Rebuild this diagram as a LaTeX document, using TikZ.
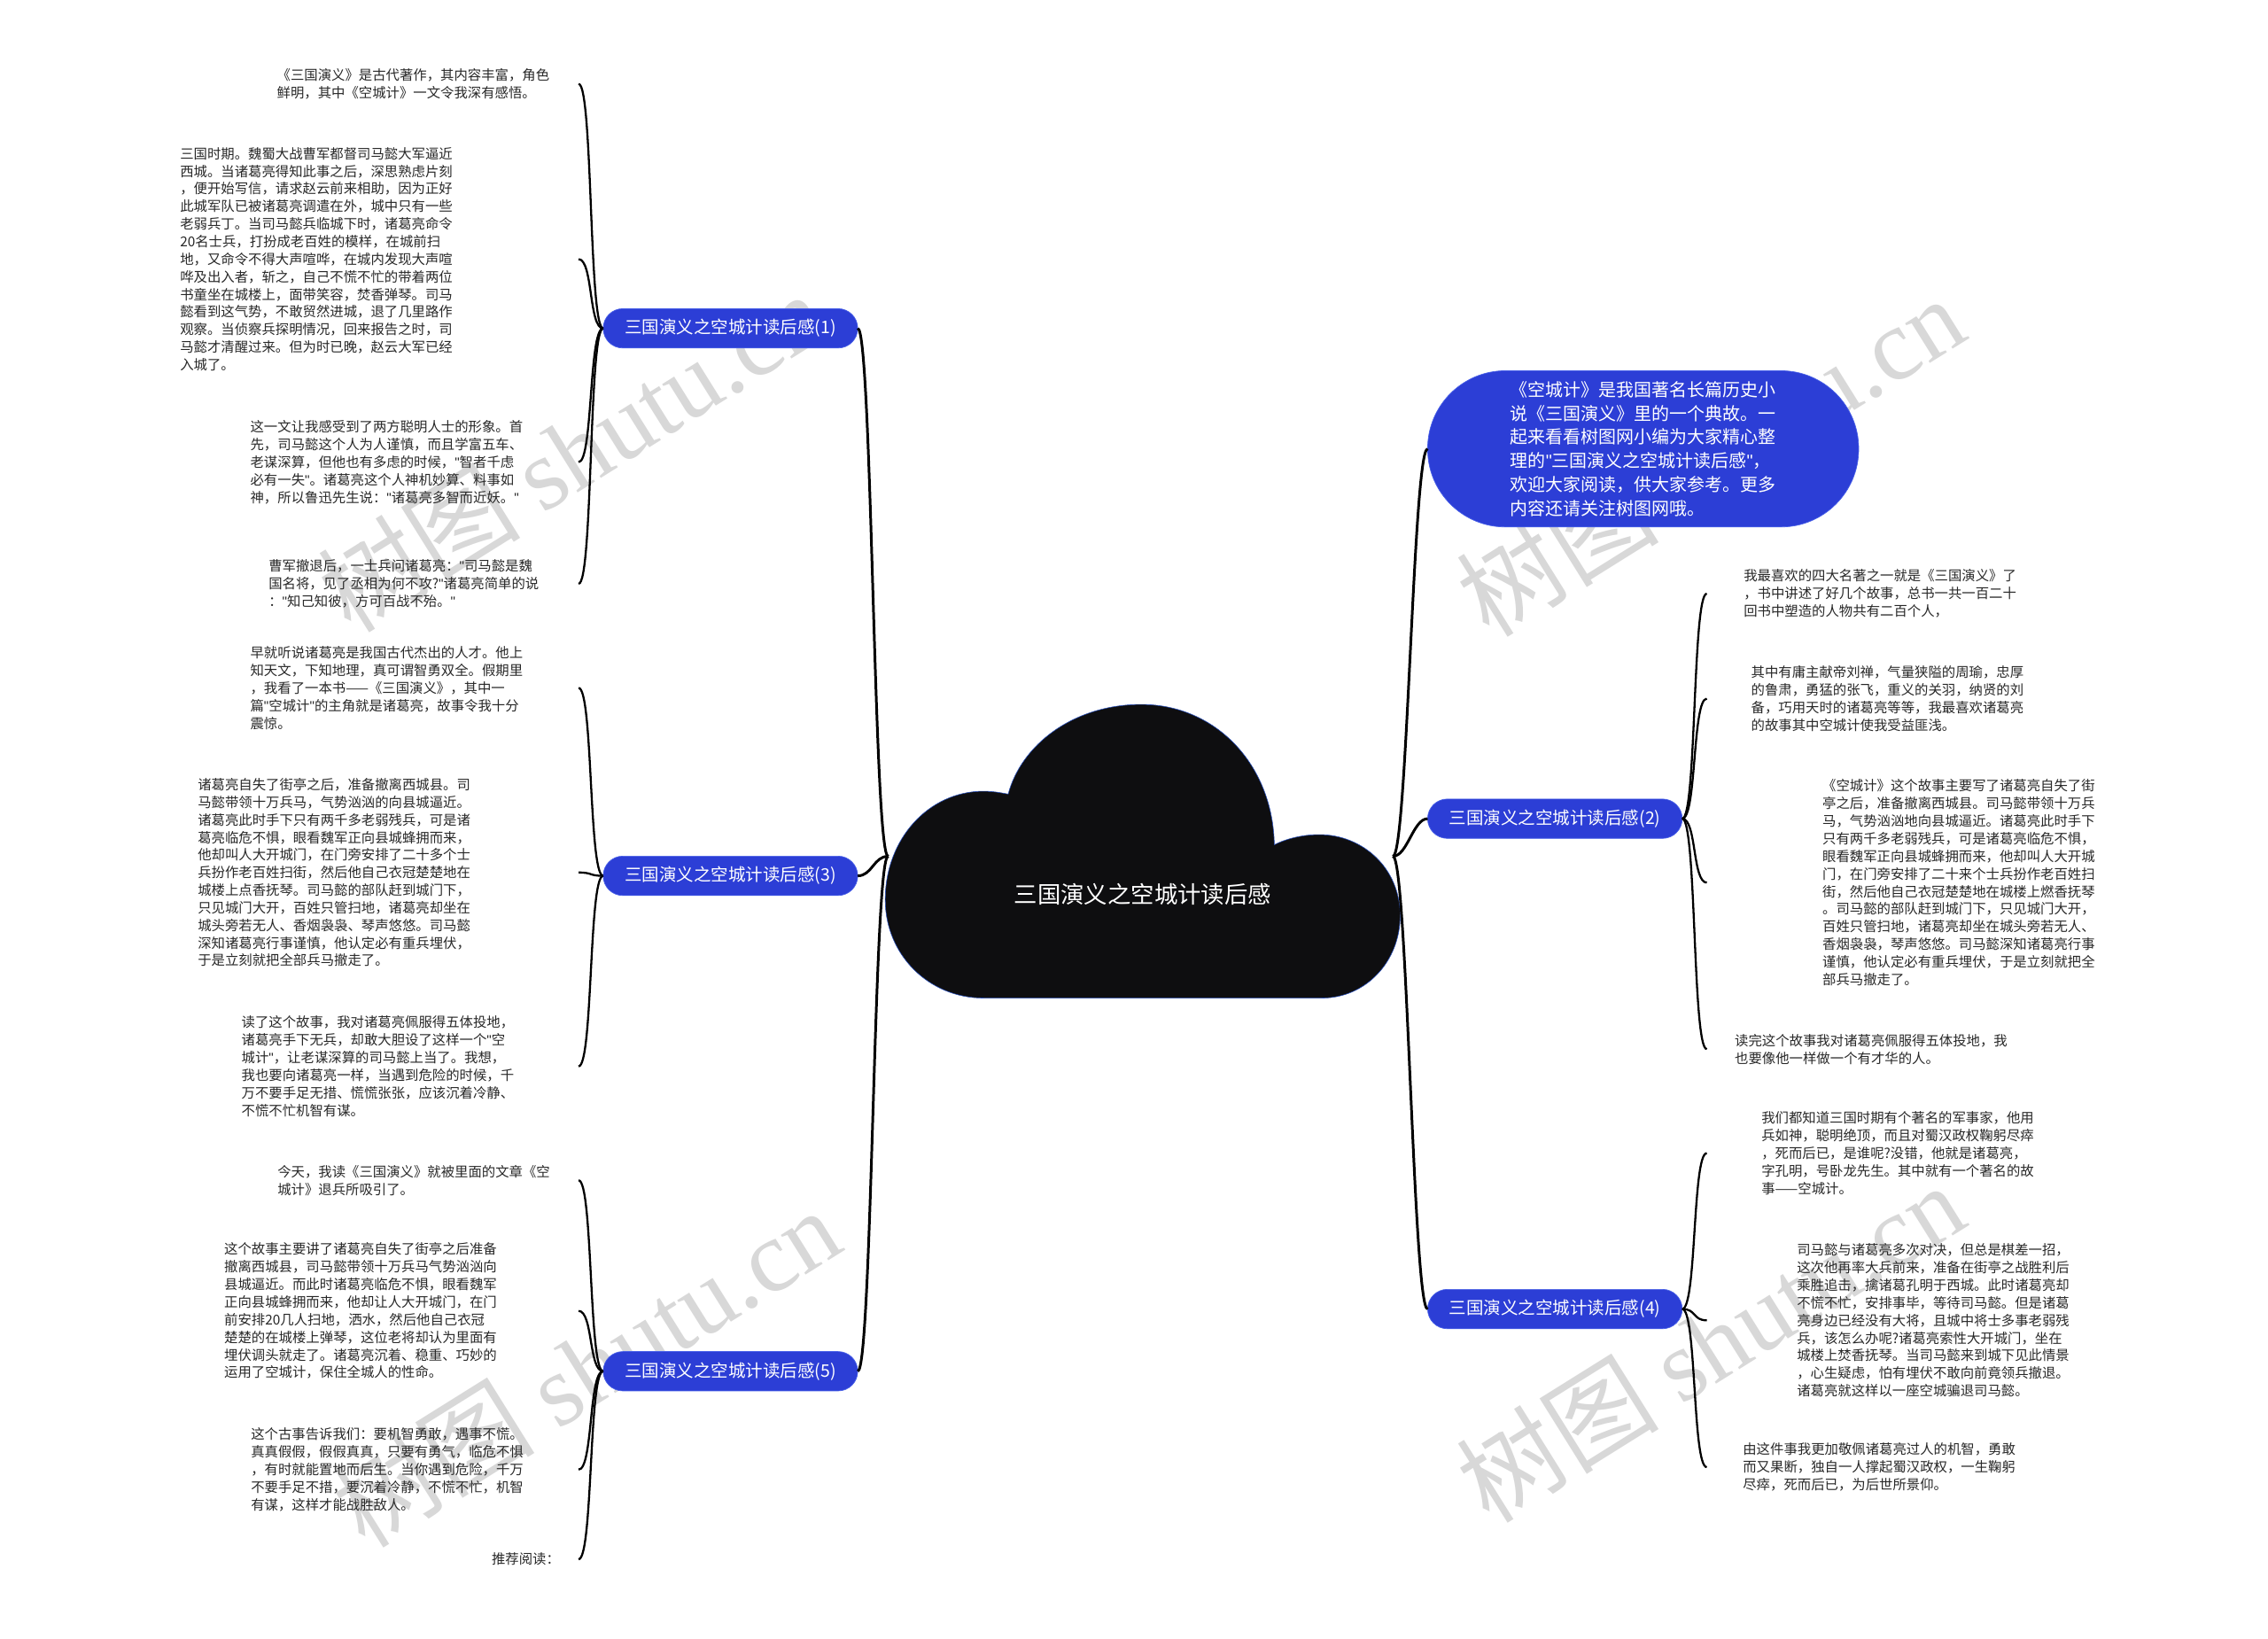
\documentclass[tikz,border=0pt]{standalone}
\usepackage{fontspec}
\setmainfont{Noto Sans CJK SC}
\newfontfamily\wmfont{Liberation Serif}
\newfontfamily\quotefont{Liberation Sans}
\newcommand\qmark{{\quotefont"}}
\definecolor{topicblue}{RGB}{44,62,214}
\definecolor{topicedge}{RGB}{72,96,232}
\definecolor{cloudfill}{RGB}{14,14,16}
\definecolor{cloudedge}{RGB}{40,80,190}
\definecolor{leafgray}{RGB}{40,40,40}
\definecolor{wmgray}{RGB}{216,216,216}

\begin{document}
\begin{tikzpicture}[x=0.5mm,y=-0.5mm,
                    every node/.style={inner sep=0pt,outer sep=0pt},
                    leaf/.style={anchor=west,align=left,text=leafgray,
                      font=\fontsize{13.4pt}{17.3pt}\selectfont},
                    topic/.style={rectangle,rounded corners=6.8mm,fill=topicblue,
                      draw=topicedge,line width=0.6pt,text=white,minimum width=88mm,
                      minimum height=13.6mm,font=\fontsize{17pt}{20pt}\selectfont},
                    intro/.style={rectangle,rounded corners=26.9mm,fill=topicblue,
                      draw=topicedge,line width=0.6pt,text=white,align=left,
                      minimum width=149mm,minimum height=54mm,
                      font=\fontsize{17.4pt}{23.3pt}\selectfont},
                    wmark/.style={text=wmgray,rotate=32,font=\fontsize{100pt}{100pt}\selectfont},
                    linkl/.style={draw=black,line width=2pt,
                      to path={.. controls +(-10,0) and +(10,0) .. (\tikztotarget)}},
                    linkr/.style={draw=black,line width=2pt,
                      to path={.. controls +(10,0) and +(-10,0) .. (\tikztotarget)}},
                    trunk/.style={line width=2.6pt}]

  \fill[white] (0,0) rectangle (1568,1133);
  \useasboundingbox (0,0) rectangle (1568,1133);

  % watermarks
  \node[wmark] (wm1) at (395,312)  {树图 {\wmfont shutu.cn}};
  \node[wmark] (wm2) at (1182,315) {树图 {\wmfont shutu.cn}};
  \node[wmark] (wm3) at (405,945)  {树图 {\wmfont shutu.cn}};
  \node[wmark] (wm4) at (1182,928) {树图 {\wmfont shutu.cn}};

  % cloud
  \draw[fill=cloudfill,draw=cloudedge,line width=0.5pt]
    (680,690) -- (914,690) .. controls (944,690) and (968,665) .. (968,633)
    .. controls (968,600) and (942,577) .. (912,577)
    .. controls (900,577) and (889,580) .. (881,584)
    .. controls (880,528) and (840,487) .. (789,487)
    .. controls (742,487) and (706,515) .. (697,549)
    .. controls (692,548) and (686,547) .. (680,547)
    .. controls (642,547) and (612,580) .. (612,622)
    .. controls (612,660) and (642,690) .. (680,690) -- cycle;
  \node[text=white,font=\fontsize{23pt}{26pt}\selectfont] (root) at (790,618) {三国演义之空城计读后感};
  \coordinate (rootl) at (614,592);
  \coordinate (rootr) at (963,592);
  \coordinate (xl) at (400,0);
  \coordinate (xr) at (1180,0);

  \node[topic] (b1) at (505,227)   {三国演义之空城计读后感(1)};
  \node[topic] (b3) at (505,605.5) {三国演义之空城计读后感(3)};
  \node[topic] (b5) at (505,948)   {三国演义之空城计读后感(5)};
  \node[topic] (b2) at (1075,566)  {三国演义之空城计读后感(2)};
  \node[topic] (b4) at (1075,905)  {三国演义之空城计读后感(4)};

  \node[intro] (r0) at (1136,310.3) {《空城计》是我国著名长篇历史小\\说《三国演义》里的一个典故。一\\起来看看树图网小编为大家精心整\\理的\qmark 三国演义之空城计读后感\qmark ，\\欢迎大家阅读，供大家参考。更多\\内容还请关注树图网哦。};

  % left leaves
  \node[leaf] (l1) at (191.5,58) {《三国演义》是古代著作，其内容丰富，角色\\鲜明，其中《空城计》一文令我深有感悟。};
  \node[leaf] (l2) at (124.5,179.2) {三国时期。魏蜀大战曹军都督司马懿大军逼近\\
    西城。当诸葛亮得知此事之后，深思熟虑片刻\\
    ，便开始写信，请求赵云前来相助，因为正好\\
    此城军队已被诸葛亮调遣在外，城中只有一些\\
    老弱兵丁。当司马懿兵临城下时，诸葛亮命令\\
    20名士兵，打扮成老百姓的模样，在城前扫\\
    地，又命令不得大声喧哗，在城内发现大声喧\\
    哗及出入者，斩之，自己不慌不忙的带着两位\\
    书童坐在城楼上，面带笑容，焚香弹琴。司马\\
    懿看到这气势，不敢贸然进城，退了几里路作\\
    观察。当侦察兵探明情况，回来报告之时，司\\
    马懿才清醒过来。但为时已晚，赵云大军已经\\
    入城了。};
  \node[leaf] (l3) at (173.1,319.5) {这一文让我感受到了两方聪明人士的形象。首\\
    先，司马懿这个人为人谨慎，而且学富五车、\\
    老谋深算，但他也有多虑的时候，\qmark 智者千虑\\
    必有一失\qmark 。诸葛亮这个人神机妙算、料事如\\
    神，所以鲁迅先生说：\qmark 诸葛亮多智而近妖。\qmark};
  \node[leaf] (l4) at (185.8,403.6) {曹军撤退后，一士兵问诸葛亮：\qmark 司马懿是魏\\
    国名将，见了丞相为何不攻?\qmark 诸葛亮简单的说\\
    ：\qmark 知己知彼，方可百战不殆。\qmark};
  \node[leaf] (l5) at (173.1,475.6) {早就听说诸葛亮是我国古代杰出的人才。他上\\
    知天文，下知地理，真可谓智勇双全。假期里\\
    ，我看了一本书——《三国演义》，其中一\\
    篇\qmark 空城计\qmark 的主角就是诸葛亮，故事令我十分\\
    震惊。};
  \node[leaf] (l6) at (136.8,603.2) {诸葛亮自失了街亭之后，准备撤离西城县。司\\
    马懿带领十万兵马，气势汹汹的向县城逼近。\\
    诸葛亮此时手下只有两千多老弱残兵，可是诸\\
    葛亮临危不惧，眼看魏军正向县城蜂拥而来，\\
    他却叫人大开城门，在门旁安排了二十多个士\\
    兵扮作老百姓扫街，然后他自己衣冠楚楚地在\\
    城楼上点香抚琴。司马懿的部队赶到城门下，\\
    只见城门大开，百姓只管扫地，诸葛亮却坐在\\
    城头旁若无人、香烟袅袅、琴声悠悠。司马懿\\
    深知诸葛亮行事谨慎，他认定必有重兵埋伏，\\
    于是立刻就把全部兵马撤走了。};
  \node[leaf] (l7) at (167,737.2) {读了这个故事，我对诸葛亮佩服得五体投地，\\
    诸葛亮手下无兵，却敢大胆设了这样一个\qmark 空\\
    城计\qmark ，让老谋深算的司马懿上当了。我想，\\
    我也要向诸葛亮一样，当遇到危险的时候，千\\
    万不要手足无措、慌慌张张，应该沉着冷静、\\
    不慌不忙机智有谋。};
  \node[leaf] (l8) at (191.9,816) {今天，我读《三国演义》就被里面的文章《空\\城计》退兵所吸引了。};
  \node[leaf] (l9) at (155.1,906.3) {这个故事主要讲了诸葛亮自失了街亭之后准备\\
    撤离西城县，司马懿带领十万兵马气势汹汹向\\
    县城逼近。而此时诸葛亮临危不惧，眼看魏军\\
    正向县城蜂拥而来，他却让人大开城门，在门\\
    前安排20几人扫地，洒水，然后他自己衣冠\\
    楚楚的在城楼上弹琴，这位老将却认为里面有\\
    埋伏调头就走了。诸葛亮沉着、稳重、巧妙的\\
    运用了空城计，保住全城人的性命。};
  \node[leaf] (l10) at (173.5,1016) {这个古事告诉我们：要机智勇敢，遇事不慌。\\
    真真假假，假假真真，只要有勇气，临危不惧\\
    ，有时就能置地而后生。当你遇到危险，千万\\
    不要手足不措，要沉着冷静，不慌不忙，机智\\
    有谋，这样才能战胜敌人。};
  \node[leaf] (l11) at (340,1078) {推荐阅读：};

  % right leaves
  \node[leaf] (r1) at (1205.6,410.4) {我最喜欢的四大名著之一就是《三国演义》了\\
    ，书中讲述了好几个故事，总书一共一百二十\\
    回书中塑造的人物共有二百个人，};
  \node[leaf] (r2) at (1210.7,483) {其中有庸主献帝刘禅，气量狭隘的周瑜，忠厚\\
    的鲁肃，勇猛的张飞，重义的关羽，纳贤的刘\\
    备，巧用天时的诸葛亮等等，我最喜欢诸葛亮\\
    的故事其中空城计使我受益匪浅。};
  \node[leaf] (r3) at (1260,610.2) {《空城计》这个故事主要写了诸葛亮自失了街\\
    亭之后，准备撤离西城县。司马懿带领十万兵\\
    马，气势汹汹地向县城逼近。诸葛亮此时手下\\
    只有两千多老弱残兵，可是诸葛亮临危不惧，\\
    眼看魏军正向县城蜂拥而来，他却叫人大开城\\
    门，在门旁安排了二十来个士兵扮作老百姓扫\\
    街，然后他自己衣冠楚楚地在城楼上燃香抚琴\\
    。司马懿的部队赶到城门下，只见城门大开，\\
    百姓只管扫地，诸葛亮却坐在城头旁若无人、\\
    香烟袅袅，琴声悠悠。司马懿深知诸葛亮行事\\
    谨慎，他认定必有重兵埋伏，于是立刻就把全\\
    部兵马撤走了。};
  \node[leaf] (r4) at (1199.4,725.3) {读完这个故事我对诸葛亮佩服得五体投地，我\\
    也要像他一样做一个有才华的人。};
  \node[leaf] (r5) at (1217.8,797.2) {我们都知道三国时期有个著名的军事家，他用\\
    兵如神，聪明绝顶，而且对蜀汉政权鞠躬尽瘁\\
    ，死而后已，是谁呢?没错，他就是诸葛亮，\\
    字孔明，号卧龙先生。其中就有一个著名的故\\
    事——空城计。};
  \node[leaf] (r6) at (1242.3,912.8) {司马懿与诸葛亮多次对决，但总是棋差一招，\\
    这次他再率大兵前来，准备在街亭之战胜利后\\
    乘胜追击，擒诸葛孔明于西城。此时诸葛亮却\\
    不慌不忙，安排事毕，等待司马懿。但是诸葛\\
    亮身边已经没有大将，且城中将士多事老弱残\\
    兵，该怎么办呢?诸葛亮索性大开城门，坐在\\
    城楼上焚香抚琴。当司马懿来到城下见此情景\\
    ，心生疑虑，怕有埋伏不敢向前竟领兵撤退。\\
    诸葛亮就这样以一座空城骗退司马懿。};
  \node[leaf] (r7) at (1205,1014.3) {由这件事我更加敬佩诸葛亮过人的机智，勇敢\\
    而又果断，独自一人撑起蜀汉政权，一生鞠躬\\
    尽瘁，死而后已，为后世所景仰。};

  \path (rootl) edge[linkl,trunk] (b1.east)
                edge[linkl,trunk] (b3.east)
                edge[linkl,trunk] (b5.east)
        (rootr) edge[linkr,trunk] (r0.west)
                edge[linkr,trunk] (b2.west)
                edge[linkr,trunk] (b4.west);

  \path (b1.west) edge[linkl] (l1.east -| xl)
                  edge[linkl] (l2.east -| xl)
                  edge[linkl] (l3.east -| xl)
                  edge[linkl] (l4.east -| xl)
        (b3.west) edge[linkl] (l5.east -| xl)
                  edge[linkl] (l6.east -| xl)
                  edge[linkl] (l7.east -| xl)
        (b5.west) edge[linkl] (l8.east -| xl)
                  edge[linkl] (l9.east -| xl)
                  edge[linkl] (l10.east -| xl)
                  edge[linkl] (l11.east -| xl);

  \path (b2.east) edge[linkr] (r1.west -| xr)
                  edge[linkr] (r2.west -| xr)
                  edge[linkr] (r3.west -| xr)
                  edge[linkr] (r4.west -| xr)
        (b4.east) edge[linkr] (r5.west -| xr)
                  edge[linkr] (r6.west -| xr)
                  edge[linkr] (r7.west -| xr);

\end{tikzpicture}
\end{document}
